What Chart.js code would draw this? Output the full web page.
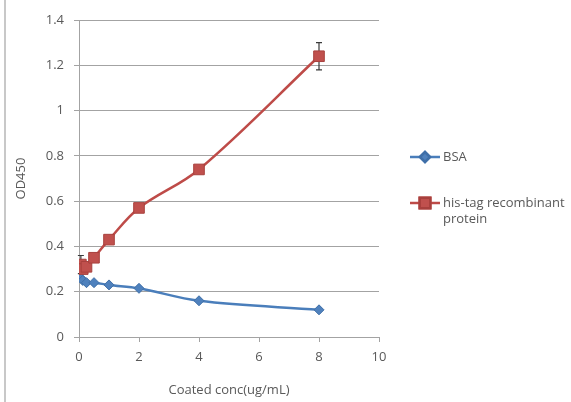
<!DOCTYPE html>
<html>
<head>
<meta charset="utf-8">
<script src="https://cdn.jsdelivr.net/npm/chart.js@4.4.0/dist/chart.umd.min.js"></script>
<style>
  body { margin: 0; background: #fff; }
  #wrap { width: 571px; height: 402px; }
</style>
</head>
<body>
<div id="wrap"><canvas id="odChart" width="571" height="402"></canvas></div>
<script>
// coated concentration (ug/mL), 2-fold dilutions
var concentrations = [0.0625, 0.125, 0.25, 0.5, 1, 2, 4, 8];
var bsaValues = [0.26, 0.25, 0.24, 0.24, 0.23, 0.215, 0.16, 0.12];
var hisTagValues = [0.32, 0.30, 0.31, 0.35, 0.43, 0.57, 0.74, 1.24];
var hisTagErrors = [0.04, 0.02, 0.02, 0.01, 0.01, 0.01, 0.01, 0.06];
var seriesNames = ['BSA', ['his-tag recombinant', 'protein']];
var xTicks = [0, 2, 4, 6, 8, 10];
var yTicks = [0, 0.2, 0.4, 0.6, 0.8, 1, 1.2, 1.4];

var textColor = '#595959';
var axisGray = '#a3a3a3';
var fontFamily = '"Open Sans", sans-serif';
var fontSize = 13;

function toPoints(values) {
    return values.map(function(v, i) { return { x: concentrations[i], y: v }; });
}

// white page + thin gray frame line on the left
var backgroundPlugin = {
    id: 'background',
    beforeDraw: function(chart) {
        var ctx = chart.ctx;
        ctx.save();
        ctx.fillStyle = '#fff';
        ctx.fillRect(0, 0, chart.width, chart.height);
        ctx.strokeStyle = '#c8c8c8';
        ctx.lineWidth = 2;
        ctx.beginPath();
        ctx.moveTo(5, 0);
        ctx.lineTo(5, chart.height);
        ctx.stroke();
        ctx.restore();
    }
};

// error bars for the his-tag series
var errorBarPlugin = {
    id: 'errorBars',
    beforeDatasetsDraw: function(chart) {
        var ctx = chart.ctx;
        var xs = chart.scales.x, ys = chart.scales.y;
        ctx.save();
        ctx.strokeStyle = '#3a3a3a';
        ctx.lineWidth = 1.2;
        hisTagValues.forEach(function(v, i) {
            var px = xs.getPixelForValue(concentrations[i]);
            var top = ys.getPixelForValue(v + hisTagErrors[i]);
            var bottom = ys.getPixelForValue(v - hisTagErrors[i]);
            ctx.beginPath();
            ctx.moveTo(px, top);
            ctx.lineTo(px, bottom);
            ctx.moveTo(px - 3, top);
            ctx.lineTo(px + 3, top);
            ctx.moveTo(px - 3, bottom);
            ctx.lineTo(px + 3, bottom);
            ctx.stroke();
        });
        ctx.restore();
    }
};

// Excel style legend: line with marker, wrapped label
var legendPlugin = {
    id: 'sideLegend',
    afterDraw: function(chart) {
        var ctx = chart.ctx;
        var rows = [157, 203];
        ctx.save();
        ctx.font = fontSize + 'px ' + fontFamily;
        ctx.textBaseline = 'middle';
        chart.data.datasets.forEach(function(ds, i) {
            var y = rows[i];
            ctx.strokeStyle = ds.borderColor;
            ctx.lineWidth = 2.5;
            ctx.beginPath();
            ctx.moveTo(410, y);
            ctx.lineTo(440, y);
            ctx.stroke();
            Chart.helpers.drawPoint(ctx, {
                pointStyle: ds.pointStyle,
                radius: ds.pointRadius,
                borderWidth: 1
            }, 425, y);
            ctx.fillStyle = ds.pointBackgroundColor;
            ctx.strokeStyle = ds.pointBorderColor;
            ctx.fill();
            ctx.stroke();
            ctx.fillStyle = textColor;
            var lines = [].concat(seriesNames[i]);
            lines.forEach(function(t, k) {
                ctx.fillText(t, 443, y + k * 16);
            });
        });
        ctx.restore();
    }
};

var ctx = document.getElementById('odChart').getContext('2d');
var odChart = new Chart(ctx, {
    type: 'line',
    data: {
        datasets: [{
            label: 'BSA',
            data: toPoints(bsaValues),
            borderColor: '#4a7ebb',
            borderWidth: 2.5,
            pointStyle: 'rectRot',
            pointRadius: 5,
            pointBackgroundColor: '#4f81bd',
            pointBorderColor: '#3f6fa8',
            pointBorderWidth: 1,
            tension: 0.35,
            order: 1
        }, {
            label: 'his-tag recombinant protein',
            data: toPoints(hisTagValues),
            borderColor: '#be4b48',
            borderWidth: 2.5,
            pointStyle: 'rect',
            pointRadius: 7.5,
            pointBackgroundColor: '#c0504d',
            pointBorderColor: '#a8403d',
            pointBorderWidth: 1,
            tension: 0.35,
            order: 0
        }]
    },
    options: {
        responsive: false,
        animation: false,
        layout: { padding: { left: 0, right: 192, top: 20, bottom: 0 } },
        plugins: {
            legend: { display: false },
            tooltip: { enabled: false }
        },
        scales: {
            x: {
                type: 'linear',
                min: 0,
                max: 10,
                afterBuildTicks: function(axis) {
                    axis.ticks = xTicks.map(function(v) { return { value: v }; });
                },
                afterFit: function(axis) { axis.height = 65; },
                grid: {
                    drawOnChartArea: false,
                    drawTicks: true,
                    tickLength: 5,
                    color: axisGray
                },
                border: { color: axisGray, width: 1 },
                ticks: {
                    color: textColor,
                    padding: 7,
                    maxRotation: 0,
                    callback: function(v) { return String(v); },
                    font: { family: fontFamily, size: fontSize }
                },
                title: {
                    display: true,
                    text: 'Coated conc(ug/mL)',
                    color: textColor,
                    padding: { top: 0, bottom: 4 },
                    font: { family: fontFamily, size: fontSize }
                }
            },
            y: {
                min: 0,
                max: 1.4,
                afterBuildTicks: function(axis) {
                    axis.ticks = yTicks.map(function(v) { return { value: v }; });
                },
                afterFit: function(axis) { axis.width = 79; },
                grid: {
                    color: axisGray,
                    drawTicks: true,
                    tickLength: 5
                },
                border: { color: axisGray, width: 1 },
                ticks: {
                    color: textColor,
                    padding: 10,
                    callback: function(v) { return String(v); },
                    font: { family: fontFamily, size: fontSize }
                },
                title: {
                    display: true,
                    text: 'OD450',
                    color: textColor,
                    padding: { top: 13, bottom: 0 },
                    font: { family: fontFamily, size: fontSize }
                }
            }
        }
    },
    plugins: [backgroundPlugin, errorBarPlugin, legendPlugin]
});
</script>
</body>
</html>
